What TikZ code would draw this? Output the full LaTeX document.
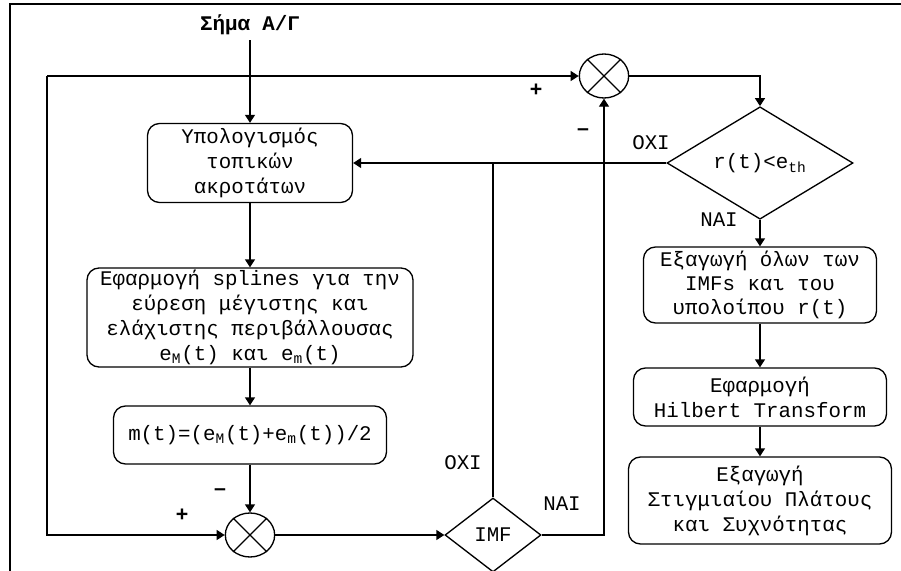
\documentclass[tikz,border=0pt]{standalone}
\usepackage{fontspec}
\setmainfont{Liberation Mono}
\newfontfamily\signfont{Liberation Sans}
\usetikzlibrary{arrows.meta,shapes.geometric}

\begin{document}
\begin{tikzpicture}[x=0.75pt,y=-0.75pt,
  line width=1pt,
  font=\fontsize{15.6pt}{18.75pt}\selectfont,
  arr/.style={-{Triangle[length=6pt,width=7.5pt]}},
  procbox/.style={draw,rounded corners=9pt,align=center,inner sep=0pt},
  test/.style={draw,diamond,inner sep=0pt},
  sum/.style={draw,ellipse,inner sep=0pt,minimum width=37pt,minimum height=33pt},
  sign/.style={font=\signfont\bfseries\fontsize{16pt}{18pt}\selectfont},
  answer/.style={inner sep=0pt}]

\useasboundingbox (0,0) rectangle (901,571);

% frame
\draw[line width=1.5pt] (9.5,571) -- (9.5,4) -- (901,4);

% input label
\node[font=\bfseries\fontsize{15.6pt}{18pt}\selectfont] (title) at (250,25) {Σήμα Α/Γ};

% left column: sifting
\node[procbox,minimum width=205*0.75pt,minimum height=79*0.75pt] (b1) at (250,163)
  {Υπολογισμός\\τοπικών\\ακροτάτων};
\node[procbox,minimum width=326*0.75pt,minimum height=99*0.75pt] (b2) at (250,317.5)
  {Εφαρμογή splines για την\\εύρεση μέγιστης και\\ελάχιστης περιβάλλουσας\\e\textsubscript{M}(t) και e\textsubscript{m}(t)};
\node[procbox,minimum width=273*0.75pt,minimum height=58*0.75pt] (b3) at (250,435)
  {m(t)=(e\textsubscript{M}(t)+e\textsubscript{m}(t))/2};

% summing junctions
\node[sum] (s1) at (604,76) {};
\draw (s1.45) -- (s1.225) (s1.135) -- (s1.315);
\node[sum] (s2) at (250,535) {};
\draw (s2.45) -- (s2.225) (s2.135) -- (s2.315);

% decisions
\node[test,minimum width=186*0.75pt,minimum height=79*0.75pt] (d1) at (760,163)
  {r(t)<e\textsubscript{th}};
\node[test,minimum width=96*0.75pt,minimum height=74*0.75pt] (d2) at (493,535) {IMF};

% right column: output
\node[procbox,minimum width=233*0.75pt,minimum height=76*0.75pt,font=\fontsize{15.6pt}{18pt}\selectfont] (b4) at (760,285)
  {Εξαγωγή όλων των\\IMFs και του\\υπολοίπου r(t)};
\node[procbox,minimum width=253*0.75pt,minimum height=58*0.75pt] (b5) at (760,397)
  {Εφαρμογή\\Hilbert Transform};
\node[procbox,minimum width=263*0.75pt,minimum height=87*0.75pt] (b6) at (760,500.5)
  {Εξαγωγή\\Στιγμιαίου Πλάτους\\και Συχνότητας};

% feedback corner
\coordinate (tl) at (47,76);

% connectors
\draw[arr] (title.south) -- (b1.north);
\draw[arr] (b1) -- (b2);
\draw[arr] (b2) -- (b3);
\draw[arr] (b3) -- (s2);
\draw[arr] (tl) -- (s1);
\draw[arr] (tl) |- (s2);
\draw[arr] (s2) -- (d2);
\draw[arr] (d2.east) -| (s1.south);
\draw (d2.north) -- (d2.north |- d1.west);
\draw[arr] (d1.west) -- (b1.east);
\draw[arr] (s1.east) -| (d1.north);
\draw[arr] (d1.south) -- (b4.north);
\draw[arr] (b4) -- (b5);
\draw[arr] (b5) -- (b6);

% signs
\node[sign] (p1) at (536,90) {+};
\node[sign] (m1) at (583,132) {–};
\node[sign] (p2) at (182,515) {+};
\node[sign] (m2) at (220,492) {–};

% branch labels
\node[answer] (no1) at (651,143) {ΟΧΙ};
\node[answer] (yes1) at (719,220) {ΝΑΙ};
\node[answer] (no2) at (463,463) {ΟΧΙ};
\node[answer] (yes2) at (562,504) {ΝΑΙ};
\end{tikzpicture}
\end{document}
